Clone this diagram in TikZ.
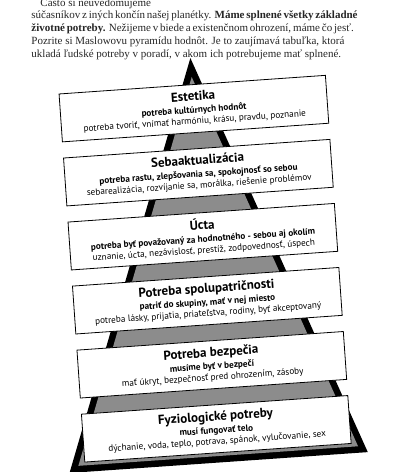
\documentclass[tikz,border=0pt]{standalone}
\usepackage{fontspec}
\setmainfont{Liberation Serif}
\newfontfamily\pyrsans{PT Sans}
\usetikzlibrary{positioning}
\newcommand{\tiertitle}[1]{{\fontsize{13}{14}\selectfont\bfseries #1}\\[1.5pt]}
\newcommand{\paraline}[1]{\hbox to 313pt{#1}}

\begin{document}
\begin{tikzpicture}[
  x=1pt, y=-1pt,
  tier/.style={rectangle, draw, line width=0.8pt, fill=white,
    minimum width=267pt, minimum height=48pt, inner sep=0pt, align=center,
    font=\pyrsans\fontsize{9.2}{11}\selectfont},
  para/.style={anchor=north west, inner sep=0pt, align=left,
    text=black!85, font=\fontsize{11}{12.8}\selectfont},
]
  \useasboundingbox (0,0) rectangle (409,472);
  \clip (0,0) rectangle (409,472);

  % text above the pyramid
  \begin{scope}[rotate around={2.7:(190,30)}]
    \node[para] (intro) at (33,-11) {\paraline{\hspace*{9pt}Často si neuvedomujeme\hfil}\\
      \paraline{súčasníkov z iných končín našej planétky. \textbf{Máme splnené všetky základné}}\\
      \paraline{\textbf{životné potreby.} Nežijeme v biede a existenčnom ohrození, máme čo jesť.}\\
      \paraline{Pozrite si Maslowovu pyramídu hodnôt. Je to zaujímavá tabuľka, ktorá}\\
      ukladá ľudské potreby v poradí, v akom ich potrebujeme mať splnené.};
  \end{scope}

  % pyramid
  \begin{scope}[rotate around={4:(205,260)}, transform shape]
    \fill[black] (204.5,57.5) -- (55,463) -- (354,463) -- cycle;
    \fill[black!45] (204.5,76.5) -- (64.3,456.5) -- (344.7,456.5) -- cycle;

    \node[tier] (estetika) at (204.5,108.2)
      {\tiertitle{Estetika}\textbf{potreba kultúrnych hodnôt}\\
       potreba tvoriť, vnímať harmóniu, krásu, pravdu, poznanie};
    \node[tier, below=15.4pt of estetika] (sebaakt)
      {\tiertitle{Sebaaktualizácia}\textbf{potreba rastu, zlepšovania sa, spokojnosť so sebou}\\
       sebarealizácia, rozvíjanie sa, morálka, riešenie problémov};
    \node[tier, below=15.4pt of sebaakt] (ucta)
      {\tiertitle{Úcta}\textbf{potreba byť považovaný za hodnotného - sebou aj okolím}\\
       uznanie, úcta, nezávislosť, prestíž, zodpovednosť, úspech};
    \node[tier, below=15.4pt of ucta] (spolupat)
      {\tiertitle{Potreba spolupatričnosti}\textbf{patriť do skupiny, mať v nej miesto}\\
       potreba lásky, prijatia, priateľstva, rodiny, byť akceptovaný};
    \node[tier, below=15.4pt of spolupat] (bezpecie)
      {\tiertitle{Potreba bezpečia}\textbf{musíme byť v bezpečí}\\
       mať úkryt, bezpečnosť pred ohrozením, zásoby};
    \node[tier, below=15.4pt of bezpecie] (fyzio)
      {\tiertitle{Fyziologické potreby}\textbf{musí fungovať telo}\\
       dýchanie, voda, teplo, potrava, spánok, vylučovanie, sex};
  \end{scope}
\end{tikzpicture}
\end{document}
